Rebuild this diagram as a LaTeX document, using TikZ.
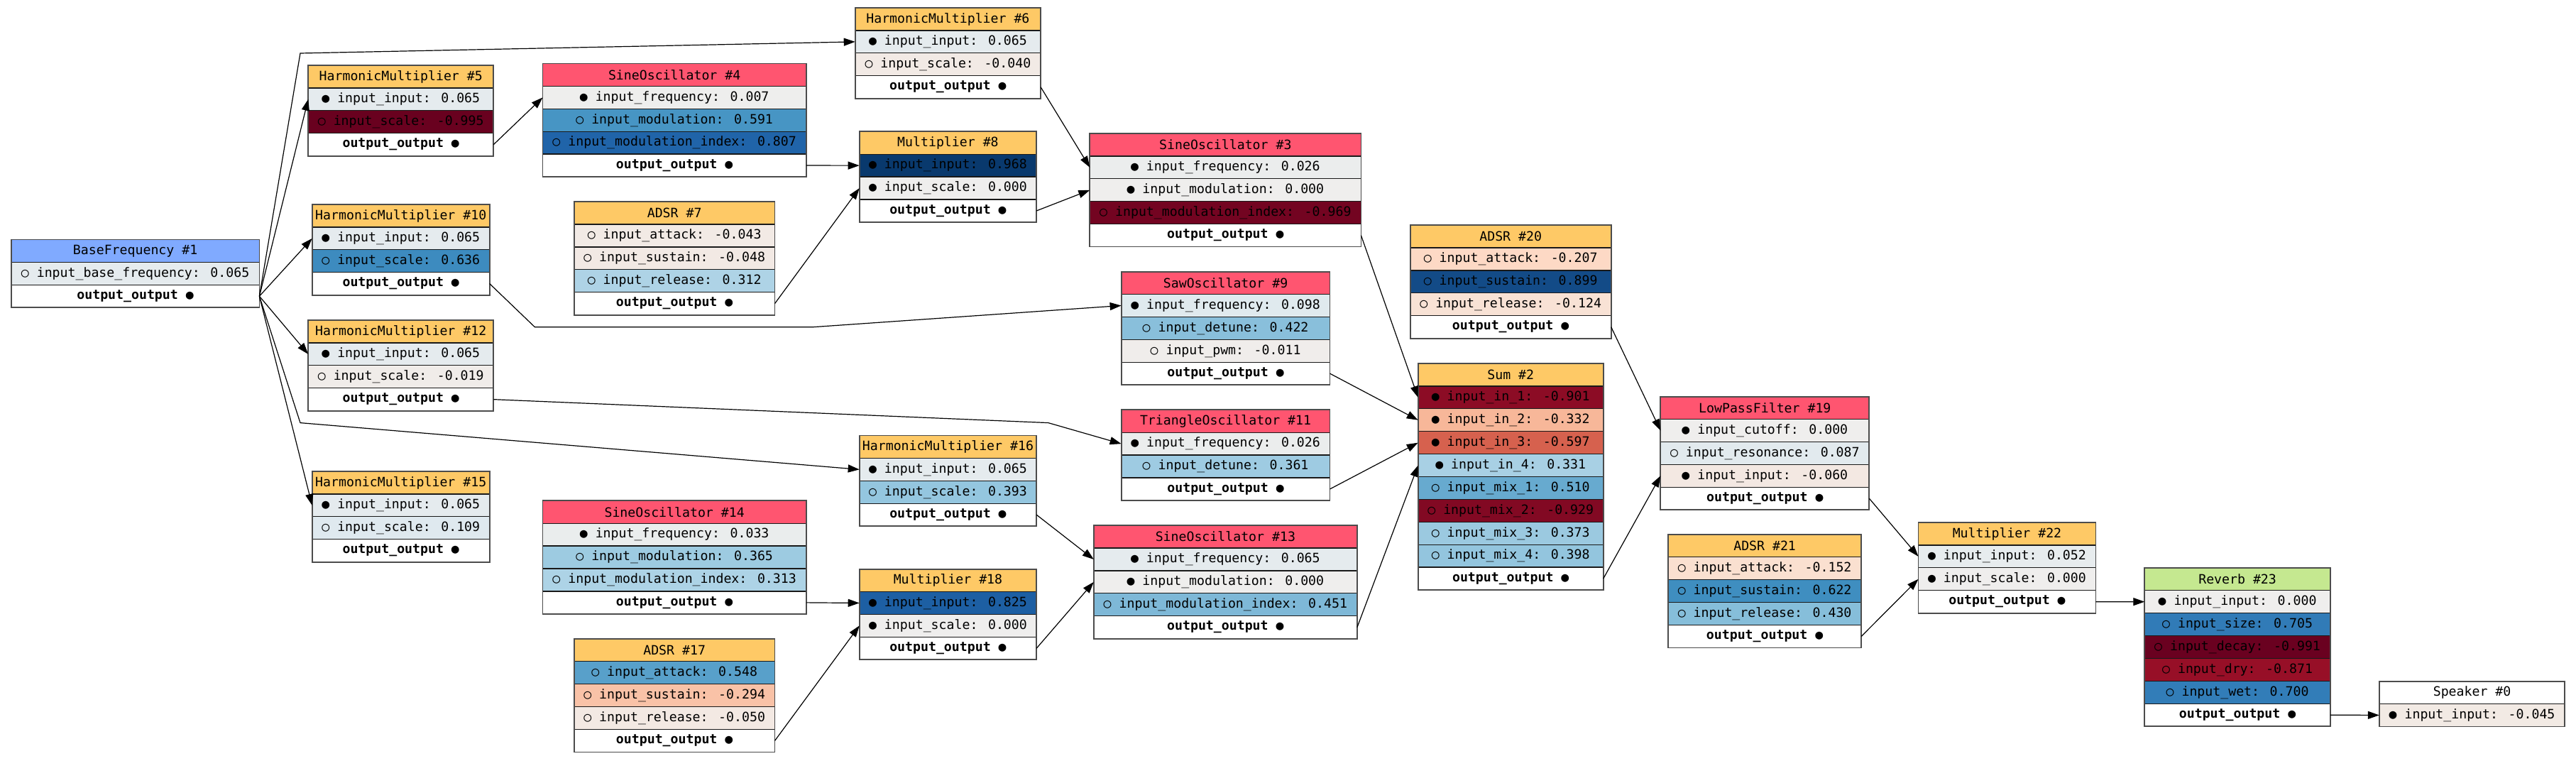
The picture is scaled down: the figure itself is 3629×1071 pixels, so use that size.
\documentclass[tikz,border=0pt]{standalone}
\usepackage{fontspec}
\usetikzlibrary{arrows.meta}
\newfontfamily\monof{DejaVu Sans Mono}
\newcommand\fsz{\fontsize{18.2}{21}\selectfont}
\definecolor{cOrange}{RGB}{254,201,102}
\definecolor{cRed}{RGB}{255,85,112}
\definecolor{cBase}{RGB}{128,170,255}
\definecolor{cGreen}{RGB}{197,232,144}
\definecolor{rbp0}{HTML}{EFEEED}
\definecolor{rbp1}{HTML}{D1E5F0}
\definecolor{rbp2}{HTML}{92C5DE}
\definecolor{rbp3}{HTML}{4393C3}
\definecolor{rbp4}{HTML}{2166AC}
\definecolor{rbp5}{HTML}{053061}
\definecolor{rbm0}{HTML}{EFEEED}
\definecolor{rbm1}{HTML}{FDDBC7}
\definecolor{rbm2}{HTML}{F4A582}
\definecolor{rbm3}{HTML}{D6604D}
\definecolor{rbm4}{HTML}{B2182B}
\definecolor{rbm5}{HTML}{67001F}
\newcommand\rdbucolor[1]{%
  \pgfmathsetmacro\rba{min(abs(#1)*5,4.9999)}%
  \pgfmathtruncatemacro\rbk{\rba}%
  \pgfmathtruncatemacro\rbkk{\rbk+1}%
  \pgfmathsetmacro\rbt{(\rba-\rbk)*100}%
  \pgfmathtruncatemacro\rbneg{(#1)<0}%
  \ifnum\rbneg=1 \colorlet{vc}{rbm\rbkk!\rbt!rbm\rbk}\else\colorlet{vc}{rbp\rbkk!\rbt!rbp\rbk}\fi}
\newcommand\hdr[6]{\def\curw{#4pt}%
  \node[rowbox, minimum width=\curw, fill=#5] (#1) at (#2,#3) {#6};}
\newcommand\vrow[4]{\rdbucolor{#3}%
  \node[rowbox, minimum width=\curw, fill=vc] (#1) at (#2.south west) {#4};}
\newcommand\orow[2]{%
  \node[rowbox, minimum width=\curw, fill=white] (#1) at (#2.south west) {\bfseries output\_output ●};}
\newcommand\frameit[2]{\draw[frame] (#1.north west) rectangle (#2.south east);}
\begin{document}
\begin{tikzpicture}[x=1pt,y=-1pt,
  rowbox/.style={draw=black!90, line width=1.3pt, minimum height=31.9pt, inner sep=0pt, outer sep=0pt, anchor=north west, font=\monof\fsz},
  frame/.style={draw=black!70, line width=1.8pt},
  edge/.style={line width=1.2pt, -{Triangle[length=16pt,width=11pt]}}]
\useasboundingbox[fill=white] (0,0) rectangle (3629,1071);

% BaseFrequency #1
\hdr{n1h}{15.8}{337.5}{349.6}{cBase}{BaseFrequency \#1}
\vrow{n1a}{n1h}{0.065}{○ input\_base\_frequency: 0.065}
\orow{n1o}{n1a}
\frameit{n1h}{n1o}

% HarmonicMultiplier #5
\hdr{n5h}{434.2}{92}{261.1}{cOrange}{HarmonicMultiplier \#5}
\vrow{n5a}{n5h}{0.065}{● input\_input: 0.065}
\vrow{n5b}{n5a}{-0.995}{○ input\_scale: -0.995}
\orow{n5o}{n5b}
\frameit{n5h}{n5o}

% HarmonicMultiplier #10
\hdr{n10h}{439.7}{288}{250.1}{cOrange}{HarmonicMultiplier \#10}
\vrow{n10a}{n10h}{0.065}{● input\_input: 0.065}
\vrow{n10b}{n10a}{0.636}{○ input\_scale: 0.636}
\orow{n10o}{n10b}
\frameit{n10h}{n10o}

% HarmonicMultiplier #12
\hdr{n12h}{434.2}{451}{261.1}{cOrange}{HarmonicMultiplier \#12}
\vrow{n12a}{n12h}{0.065}{● input\_input: 0.065}
\vrow{n12b}{n12a}{-0.019}{○ input\_scale: -0.019}
\orow{n12o}{n12b}
\frameit{n12h}{n12o}

% HarmonicMultiplier #15
\hdr{n15h}{439.7}{664}{250.1}{cOrange}{HarmonicMultiplier \#15}
\vrow{n15a}{n15h}{0.065}{● input\_input: 0.065}
\vrow{n15b}{n15a}{0.109}{○ input\_scale: 0.109}
\orow{n15o}{n15b}
\frameit{n15h}{n15o}

% SineOscillator #4
\hdr{n4h}{764.5}{89.5}{371.3}{cRed}{SineOscillator \#4}
\vrow{n4a}{n4h}{0.007}{● input\_frequency: 0.007}
\vrow{n4b}{n4a}{0.591}{○ input\_modulation: 0.591}
\vrow{n4c}{n4b}{0.807}{○ input\_modulation\_index: 0.807}
\orow{n4o}{n4c}
\frameit{n4h}{n4o}

% ADSR #7
\hdr{n7h}{808.8}{284.1}{282.7}{cOrange}{ADSR \#7}
\vrow{n7a}{n7h}{-0.043}{○ input\_attack: -0.043}
\vrow{n7b}{n7a}{-0.048}{○ input\_sustain: -0.048}
\vrow{n7c}{n7b}{0.312}{○ input\_release: 0.312}
\orow{n7o}{n7c}
\frameit{n7h}{n7o}

% SineOscillator #14
\hdr{n14h}{764.5}{705.3}{371.3}{cRed}{SineOscillator \#14}
\vrow{n14a}{n14h}{0.033}{● input\_frequency: 0.033}
\vrow{n14b}{n14a}{0.365}{○ input\_modulation: 0.365}
\vrow{n14c}{n14b}{0.313}{○ input\_modulation\_index: 0.313}
\orow{n14o}{n14c}
\frameit{n14h}{n14o}

% ADSR #17
\hdr{n17h}{808.8}{899.9}{282.7}{cOrange}{ADSR \#17}
\vrow{n17a}{n17h}{0.548}{○ input\_attack: 0.548}
\vrow{n17b}{n17a}{-0.294}{○ input\_sustain: -0.294}
\vrow{n17c}{n17b}{-0.050}{○ input\_release: -0.050}
\orow{n17o}{n17c}
\frameit{n17h}{n17o}

% HarmonicMultiplier #6
\hdr{n6h}{1204.7}{11}{261.4}{cOrange}{HarmonicMultiplier \#6}
\vrow{n6a}{n6h}{0.065}{● input\_input: 0.065}
\vrow{n6b}{n6a}{-0.040}{○ input\_scale: -0.040}
\orow{n6o}{n6b}
\frameit{n6h}{n6o}

% Multiplier #8
\hdr{n8h}{1210.7}{185.3}{249.5}{cOrange}{Multiplier \#8}
\vrow{n8a}{n8h}{0.968}{● input\_input: 0.968}
\vrow{n8b}{n8a}{0.000}{● input\_scale: 0.000}
\orow{n8o}{n8b}
\frameit{n8h}{n8o}

% SineOscillator #3
\hdr{n3h}{1535.3}{188}{382.1}{cRed}{SineOscillator \#3}
\vrow{n3a}{n3h}{0.026}{● input\_frequency: 0.026}
\vrow{n3b}{n3a}{0.000}{● input\_modulation: 0.000}
\vrow{n3c}{n3b}{-0.969}{○ input\_modulation\_index: -0.969}
\orow{n3o}{n3c}
\frameit{n3h}{n3o}

% SawOscillator #9
\hdr{n9h}{1579.6}{382.6}{293.9}{cRed}{SawOscillator \#9}
\vrow{n9a}{n9h}{0.098}{● input\_frequency: 0.098}
\vrow{n9b}{n9a}{0.422}{○ input\_detune: 0.422}
\vrow{n9c}{n9b}{-0.011}{○ input\_pwm: -0.011}
\orow{n9o}{n9c}
\frameit{n9h}{n9o}

% TriangleOscillator #11
\hdr{n11h}{1579.6}{577.3}{293.9}{cRed}{TriangleOscillator \#11}
\vrow{n11a}{n11h}{0.026}{● input\_frequency: 0.026}
\vrow{n11b}{n11a}{0.361}{○ input\_detune: 0.361}
\orow{n11o}{n11b}
\frameit{n11h}{n11o}

% HarmonicMultiplier #16
\hdr{n16h}{1210.7}{613.5}{249.5}{cOrange}{HarmonicMultiplier \#16}
\vrow{n16a}{n16h}{0.065}{● input\_input: 0.065}
\vrow{n16b}{n16a}{0.393}{○ input\_scale: 0.393}
\orow{n16o}{n16b}
\frameit{n16h}{n16o}

% Multiplier #18
\hdr{n18h}{1210.7}{801.6}{249.5}{cOrange}{Multiplier \#18}
\vrow{n18a}{n18h}{0.825}{● input\_input: 0.825}
\vrow{n18b}{n18a}{0.000}{● input\_scale: 0.000}
\orow{n18o}{n18b}
\frameit{n18h}{n18o}

% SineOscillator #13
\hdr{n13h}{1540.8}{740.1}{371.1}{cRed}{SineOscillator \#13}
\vrow{n13a}{n13h}{0.065}{● input\_frequency: 0.065}
\vrow{n13b}{n13a}{0.000}{● input\_modulation: 0.000}
\vrow{n13c}{n13b}{0.451}{○ input\_modulation\_index: 0.451}
\orow{n13o}{n13c}
\frameit{n13h}{n13o}

% ADSR #20
\hdr{n20h}{1986.6}{317.1}{283.1}{cOrange}{ADSR \#20}
\vrow{n20a}{n20h}{-0.207}{○ input\_attack: -0.207}
\vrow{n20b}{n20a}{0.899}{○ input\_sustain: 0.899}
\vrow{n20c}{n20b}{-0.124}{○ input\_release: -0.124}
\orow{n20o}{n20c}
\frameit{n20h}{n20o}

% Sum #2
\hdr{n2h}{1997.7}{512}{261}{cOrange}{Sum \#2}
\vrow{n2a}{n2h}{-0.901}{● input\_in\_1: -0.901}
\vrow{n2b}{n2a}{-0.332}{● input\_in\_2: -0.332}
\vrow{n2c}{n2b}{-0.597}{● input\_in\_3: -0.597}
\vrow{n2d}{n2c}{0.331}{● input\_in\_4: 0.331}
\vrow{n2e}{n2d}{0.510}{○ input\_mix\_1: 0.510}
\vrow{n2f}{n2e}{-0.929}{○ input\_mix\_2: -0.929}
\vrow{n2g}{n2f}{0.373}{○ input\_mix\_3: 0.373}
\vrow{n2i}{n2g}{0.398}{○ input\_mix\_4: 0.398}
\orow{n2o}{n2i}
\frameit{n2h}{n2o}

% LowPassFilter #19
\hdr{n19h}{2339.3}{558.6}{294}{cRed}{LowPassFilter \#19}
\vrow{n19a}{n19h}{0.000}{● input\_cutoff: 0.000}
\vrow{n19b}{n19a}{0.087}{○ input\_resonance: 0.087}
\vrow{n19c}{n19b}{-0.060}{● input\_input: -0.060}
\orow{n19o}{n19c}
\frameit{n19h}{n19o}

% ADSR #21
\hdr{n21h}{2350}{752.9}{272.2}{cOrange}{ADSR \#21}
\vrow{n21a}{n21h}{-0.152}{○ input\_attack: -0.152}
\vrow{n21b}{n21a}{0.622}{○ input\_sustain: 0.622}
\vrow{n21c}{n21b}{0.430}{○ input\_release: 0.430}
\orow{n21o}{n21c}
\frameit{n21h}{n21o}

% Multiplier #22
\hdr{n22h}{2702.5}{736}{249.9}{cOrange}{Multiplier \#22}
\vrow{n22a}{n22h}{0.052}{● input\_input: 0.052}
\vrow{n22b}{n22a}{0.000}{● input\_scale: 0.000}
\orow{n22o}{n22b}
\frameit{n22h}{n22o}

% Reverb #23
\hdr{n23h}{3021.3}{799.8}{261.5}{cGreen}{Reverb \#23}
\vrow{n23a}{n23h}{0.000}{● input\_input: 0.000}
\vrow{n23b}{n23a}{0.705}{○ input\_size: 0.705}
\vrow{n23c}{n23b}{-0.991}{○ input\_decay: -0.991}
\vrow{n23d}{n23c}{-0.871}{○ input\_dry: -0.871}
\vrow{n23e}{n23d}{0.700}{○ input\_wet: 0.700}
\orow{n23o}{n23e}
\frameit{n23h}{n23o}

% Speaker #0
\hdr{n0h}{3351.8}{959.6}{261.5}{white}{Speaker \#0}
\vrow{n0a}{n0h}{-0.045}{● input\_input: -0.045}
\frameit{n0h}{n0a}

% bend points
\coordinate (b1) at (423,75);
\coordinate (b2) at (423,595.6);
\coordinate (b3) at (753.4,460.7);
\coordinate (b4) at (1145.7,460.7);
\coordinate (b5) at (1476.8,595.6);

% edges
\draw[edge] (n1o.east) -- (n5a.west);
\draw[edge] (n1o.east) -- (b1) -- (n6a.west);
\draw[edge] (n1o.east) -- (n10a.west);
\draw[edge] (n1o.east) -- (n12a.west);
\draw[edge] (n1o.east) -- (n15a.west);
\draw[edge] (n1o.east) -- (b2) -- (n16a.west);
\draw[edge] (n5o.east) -- (n4a.west);
\draw[edge] (n10o.east) -- (b3) -- (b4) -- (n9a.west);
\draw[edge] (n12o.east) -- (b5) -- (n11a.west);
\draw[edge] (n4o.east) -- (n8a.west);
\draw[edge] (n7o.east) -- (n8b.west);
\draw[edge] (n14o.east) -- (n18a.west);
\draw[edge] (n17o.east) -- (n18b.west);
\draw[edge] (n6o.east) -- (n3a.west);
\draw[edge] (n8o.east) -- (n3b.west);
\draw[edge] (n16o.east) -- (n13a.west);
\draw[edge] (n18o.east) -- (n13b.west);
\draw[edge] (n3o.east) -- (n2a.west);
\draw[edge] (n9o.east) -- (n2b.west);
\draw[edge] (n11o.east) -- (n2c.west);
\draw[edge] (n13o.east) -- (n2d.west);
\draw[edge] (n20o.east) -- (n19a.west);
\draw[edge] (n2o.east) -- (n19c.west);
\draw[edge] (n19o.east) -- (n22a.west);
\draw[edge] (n21o.east) -- (n22b.west);
\draw[edge] (n22o.east) -- (n23a.west);
\draw[edge] (n23o.east) -- (n0a.west);
\end{tikzpicture}
\end{document}
